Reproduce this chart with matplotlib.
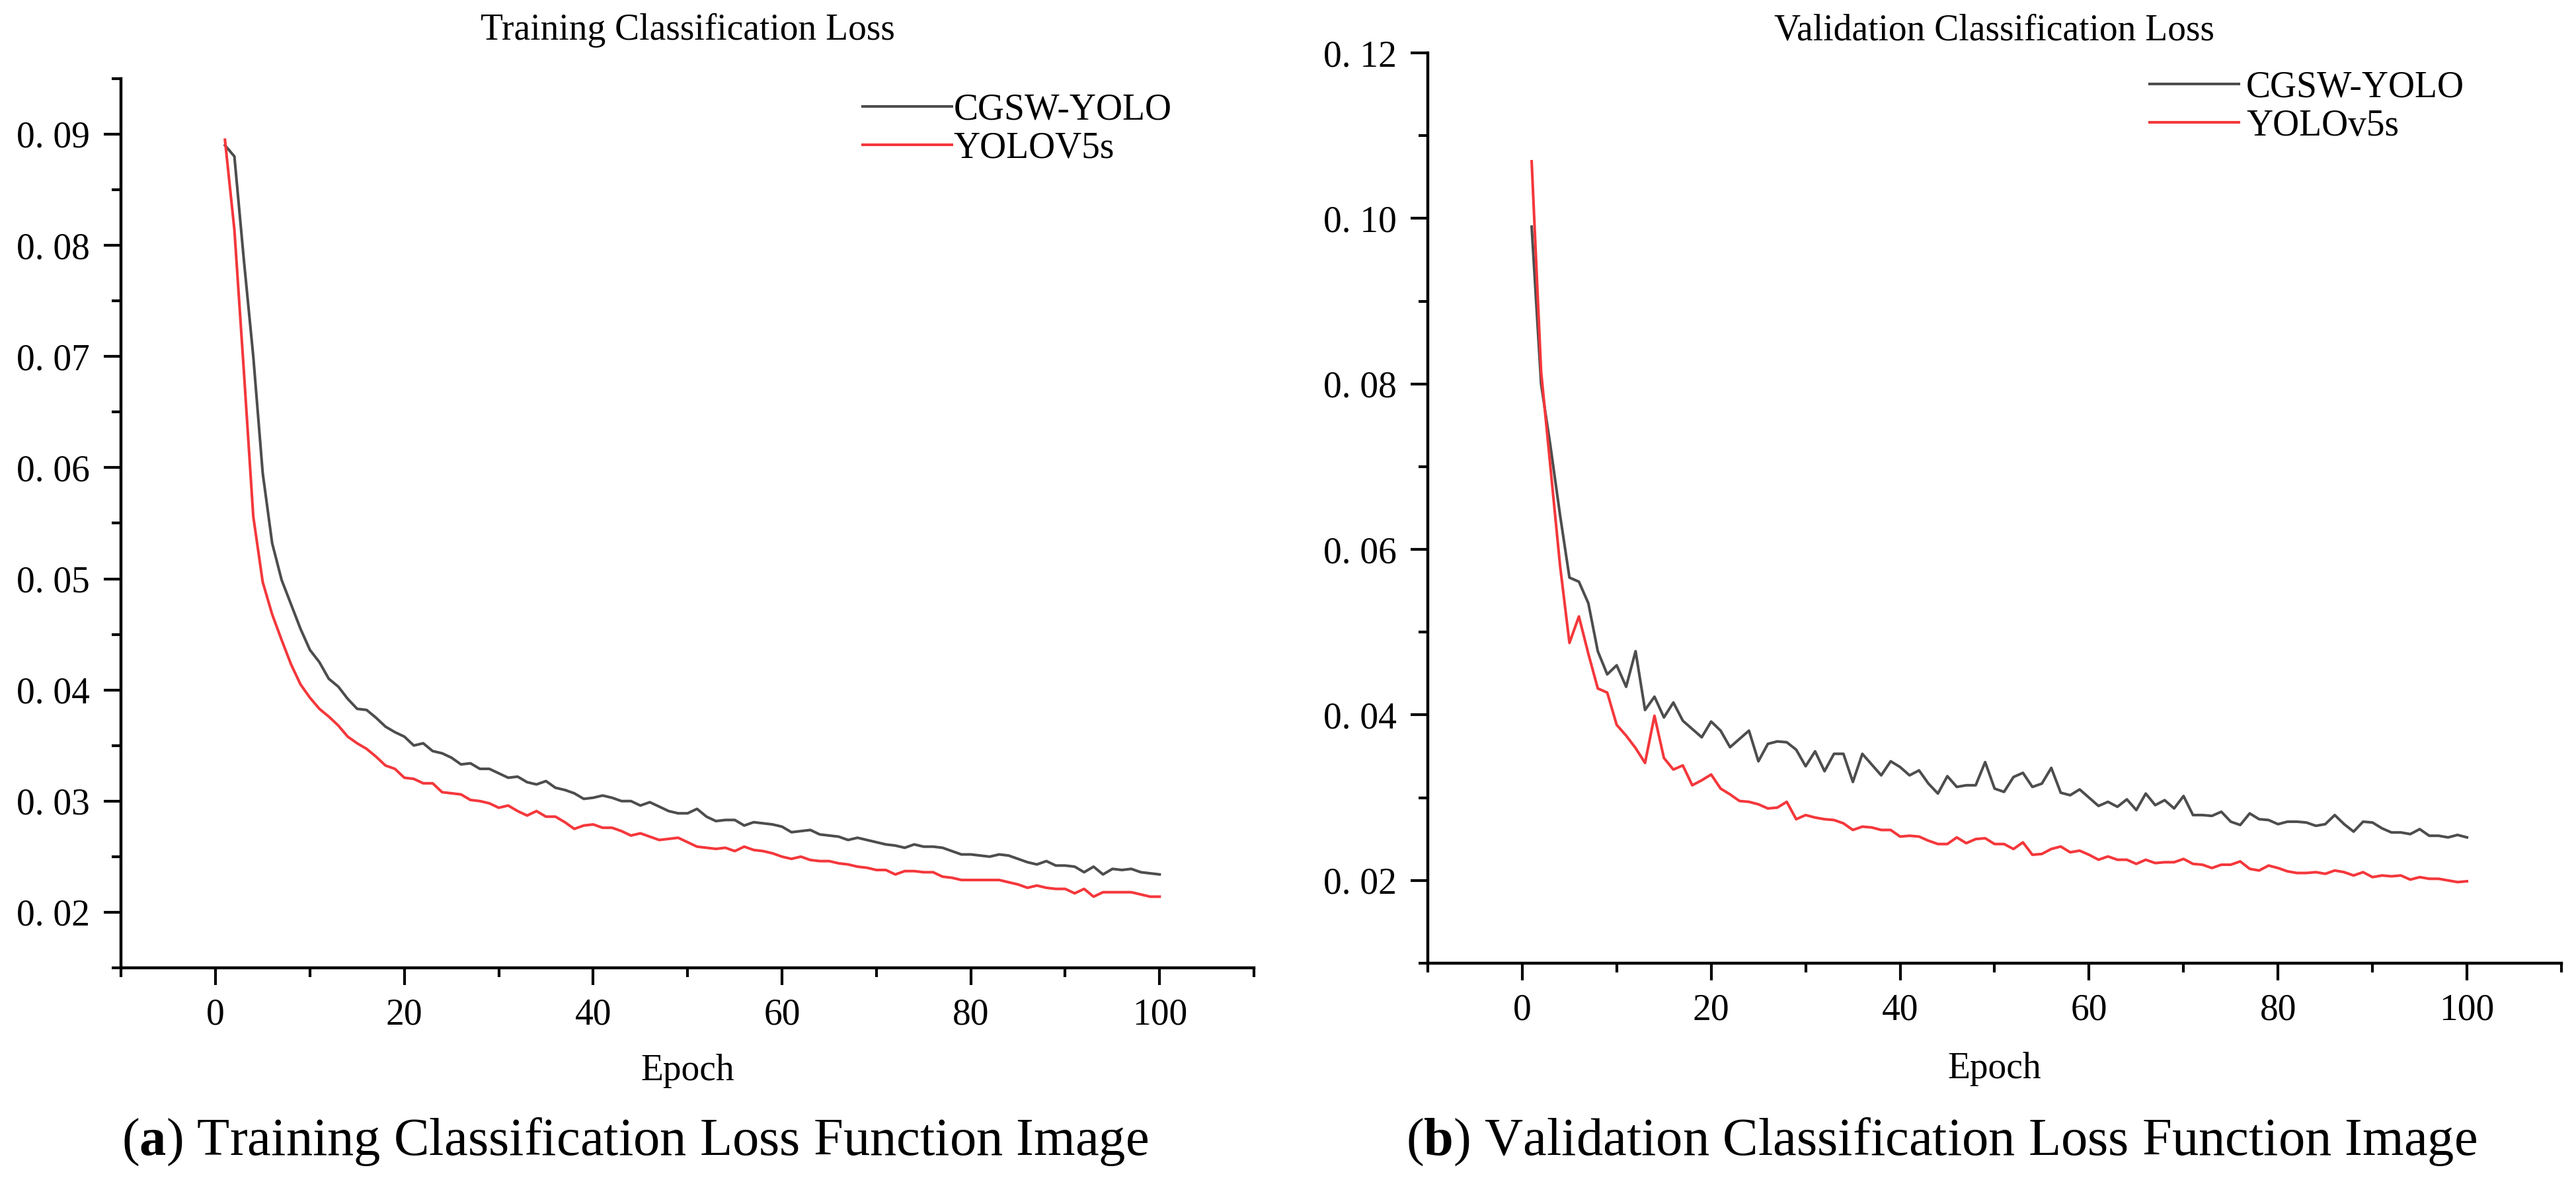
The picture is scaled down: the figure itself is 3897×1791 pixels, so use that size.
import numpy as np
import matplotlib
matplotlib.use("Agg")
import matplotlib.pyplot as plt
from matplotlib.ticker import MultipleLocator, FuncFormatter

plt.rcParams['font.family'] = ['Liberation Serif', 'DejaVu Serif']
plt.rcParams['mathtext.fontset'] = 'custom'
plt.rcParams['mathtext.rm'] = 'Liberation Serif'
plt.rcParams['mathtext.bf'] = 'Liberation Serif:bold'

epochs = np.arange(1, 101)

# training classification loss
train_cgsw = [
    0.0890, 0.0880, 0.0787, 0.0700, 0.0595, 0.0532, 0.0499, 0.0477, 0.0455, 0.0436,
    0.0425, 0.0410, 0.0403, 0.0392, 0.0383, 0.0382, 0.0375, 0.0367, 0.0362, 0.0358,
    0.0350, 0.0352, 0.0345, 0.0343, 0.0339, 0.0333, 0.0334, 0.0329, 0.0329, 0.0325,
    0.0321, 0.0322, 0.0317, 0.0315, 0.0318, 0.0312, 0.0310, 0.0307, 0.0302, 0.0303,
    0.0305, 0.0303, 0.0300, 0.0300, 0.0296, 0.0299, 0.0295, 0.0291, 0.0289, 0.0289,
    0.0293, 0.0286, 0.0282, 0.0283, 0.0283, 0.0278, 0.0281, 0.0280, 0.0279, 0.0277,
    0.0272, 0.0273, 0.0274, 0.0270, 0.0269, 0.0268, 0.0265, 0.0267, 0.0265, 0.0263,
    0.0261, 0.0260, 0.0258, 0.0261, 0.0259, 0.0259, 0.0258, 0.0255, 0.0252, 0.0252,
    0.0251, 0.0250, 0.0252, 0.0251, 0.0248, 0.0245, 0.0243, 0.0246, 0.0242, 0.0242,
    0.0241, 0.0236, 0.0241, 0.0234, 0.0239, 0.0238, 0.0239, 0.0236, 0.0235, 0.0234,
]
train_v5s = [
    0.0895, 0.0814, 0.0687, 0.0556, 0.0497, 0.0468, 0.0445, 0.0423, 0.0405, 0.0393,
    0.0383, 0.0376, 0.0368, 0.0358, 0.0352, 0.0347, 0.0340, 0.0332, 0.0329, 0.0321,
    0.0320, 0.0316, 0.0316, 0.0308, 0.0307, 0.0306, 0.0301, 0.0300, 0.0298, 0.0294,
    0.0296, 0.0291, 0.0287, 0.0291, 0.0286, 0.0286, 0.0281, 0.0275, 0.0278, 0.0279,
    0.0276, 0.0276, 0.0273, 0.0269, 0.0271, 0.0268, 0.0265, 0.0266, 0.0267, 0.0263,
    0.0259, 0.0258, 0.0257, 0.0258, 0.0255, 0.0259, 0.0256, 0.0255, 0.0253, 0.0250,
    0.0248, 0.0250, 0.0247, 0.0246, 0.0246, 0.0244, 0.0243, 0.0241, 0.0240, 0.0238,
    0.0238, 0.0234, 0.0237, 0.0237, 0.0236, 0.0236, 0.0232, 0.0231, 0.0229, 0.0229,
    0.0229, 0.0229, 0.0229, 0.0227, 0.0225, 0.0222, 0.0224, 0.0222, 0.0221, 0.0221,
    0.0217, 0.0221, 0.0214, 0.0218, 0.0218, 0.0218, 0.0218, 0.0216, 0.0214, 0.0214,
]

# validation classification loss
val_cgsw = [
    0.0990, 0.0800, 0.0724, 0.0642, 0.0566, 0.0561, 0.0535, 0.0477, 0.0449, 0.0460,
    0.0434, 0.0477, 0.0406, 0.0422, 0.0397, 0.0415, 0.0393, 0.0383, 0.0373, 0.0392,
    0.0381, 0.0361, 0.0371, 0.0381, 0.0344, 0.0365, 0.0368, 0.0367, 0.0358, 0.0338,
    0.0356, 0.0332, 0.0353, 0.0353, 0.0319, 0.0353, 0.0340, 0.0327, 0.0344, 0.0337,
    0.0327, 0.0333, 0.0317, 0.0305, 0.0326, 0.0313, 0.0315, 0.0315, 0.0343, 0.0311,
    0.0307, 0.0325, 0.0330, 0.0313, 0.0317, 0.0336, 0.0306, 0.0303, 0.0310, 0.0300,
    0.0290, 0.0295, 0.0289, 0.0298, 0.0285, 0.0305, 0.0291, 0.0297, 0.0287, 0.0302,
    0.0279, 0.0279, 0.0278, 0.0283, 0.0271, 0.0267, 0.0281, 0.0274, 0.0273, 0.0268,
    0.0271, 0.0271, 0.0270, 0.0266, 0.0268, 0.0279, 0.0268, 0.0259, 0.0271, 0.0270,
    0.0263, 0.0258, 0.0258, 0.0256, 0.0262, 0.0254, 0.0254, 0.0252, 0.0255, 0.0252,
]
val_v5s = [
    0.1069, 0.0815, 0.0698, 0.0581, 0.0487, 0.0519, 0.0474, 0.0432, 0.0427, 0.0388,
    0.0375, 0.0360, 0.0342, 0.0399, 0.0348, 0.0334, 0.0339, 0.0315, 0.0321, 0.0328,
    0.0311, 0.0304, 0.0296, 0.0295, 0.0292, 0.0287, 0.0288, 0.0295, 0.0274, 0.0279,
    0.0276, 0.0274, 0.0273, 0.0269, 0.0261, 0.0265, 0.0264, 0.0261, 0.0261, 0.0253,
    0.0254, 0.0253, 0.0248, 0.0244, 0.0244, 0.0252, 0.0245, 0.0250, 0.0251, 0.0244,
    0.0244, 0.0238, 0.0246, 0.0231, 0.0232, 0.0238, 0.0241, 0.0234, 0.0236, 0.0231,
    0.0225, 0.0229, 0.0225, 0.0225, 0.0220, 0.0225, 0.0221, 0.0222, 0.0222, 0.0226,
    0.0220, 0.0219, 0.0215, 0.0219, 0.0219, 0.0223, 0.0214, 0.0212, 0.0218, 0.0215,
    0.0211, 0.0209, 0.0209, 0.0210, 0.0208, 0.0212, 0.0210, 0.0206, 0.0210, 0.0204,
    0.0206, 0.0205, 0.0206, 0.0201, 0.0204, 0.0202, 0.0202, 0.0200, 0.0198, 0.0199,
]

GRAY = "#4d4d4d"
RED = "#f4373b"
FS = 40
LW = 2.9

fig = plt.figure(figsize=(38.98, 17.91), dpi=100)
fig.patch.set_facecolor("white")


def style_axes(ax, ymin, ymax, ymajor, yminor):
    ax.set_xlim(-10, 110)
    ax.set_ylim(ymin, ymax)
    for s in ["top", "right"]:
        ax.spines[s].set_visible(False)
    for s in ["left", "bottom"]:
        ax.spines[s].set_linewidth(3.2)
    ax.xaxis.set_major_locator(MultipleLocator(20))
    ax.xaxis.set_minor_locator(MultipleLocator(10))
    ax.yaxis.set_major_locator(MultipleLocator(ymajor))
    ax.yaxis.set_minor_locator(MultipleLocator(yminor))
    ax.yaxis.set_major_formatter(FuncFormatter(lambda v, p: f"{v:.2f}".replace(".", ". ")))
    ax.tick_params(which="major", direction="out", length=19, width=3, labelsize=FS)
    ax.tick_params(which="minor", direction="out", length=10, width=3)
    ax.tick_params(axis="y", which="major", pad=15)
    ax.tick_params(axis="x", which="major", pad=14)
    ax.set_xlabel("Epoch", fontsize=FS)
    ax.xaxis.set_label_coords(0.5, -0.097)


# (a) training
ax1 = fig.add_axes([0.0470, 0.1826, 0.4397, 0.7510])
ax1.plot(epochs, train_cgsw, color=GRAY, lw=LW, label="CGSW-YOLO")
ax1.plot(epochs, train_v5s, color=RED, lw=LW, label="YOLOV5s")
style_axes(ax1, 0.015, 0.095, 0.01, 0.005)
ax1.legend(loc="upper left", bbox_to_anchor=(0.3348, 0.9218), bbox_transform=fig.transFigure,
           frameon=False, fontsize=FS, handlelength=2.43, handletextpad=0.05,
           borderpad=0, borderaxespad=0, labelspacing=0.12)
fig.text(0.2668, 0.9743, "Training Classification Loss", fontsize=FS, ha="center", va="center")

# (b) validation
ax2 = fig.add_axes([0.5541, 0.1865, 0.4400, 0.7688])
ax2.plot(epochs, val_cgsw, color=GRAY, lw=LW, label="CGSW-YOLO")
ax2.plot(epochs, val_v5s, color=RED, lw=LW, label="YOLOv5s")
style_axes(ax2, 0.01, 0.12, 0.02, 0.01)
ax2.legend(loc="upper left", bbox_to_anchor=(0.8343, 0.9408), bbox_transform=fig.transFigure,
           frameon=False, fontsize=FS, handlelength=2.43, handletextpad=0.2,
           borderpad=0, borderaxespad=0, labelspacing=0.12)
fig.text(0.7740, 0.9743, "Validation Classification Loss", fontsize=FS, ha="center", va="center")

# captions
fig.text(0.2463, 1 - 1747 / 1791, r"($\mathbf{a}$) Training Classification Loss Function Image",
         fontsize=58, ha="center", va="baseline")
fig.text(0.7535, 1 - 1747 / 1791, r"($\mathbf{b}$) Validation Classification Loss Function Image",
         fontsize=58, ha="center", va="baseline")

fig.savefig("out.png", dpi=100, facecolor="white")
